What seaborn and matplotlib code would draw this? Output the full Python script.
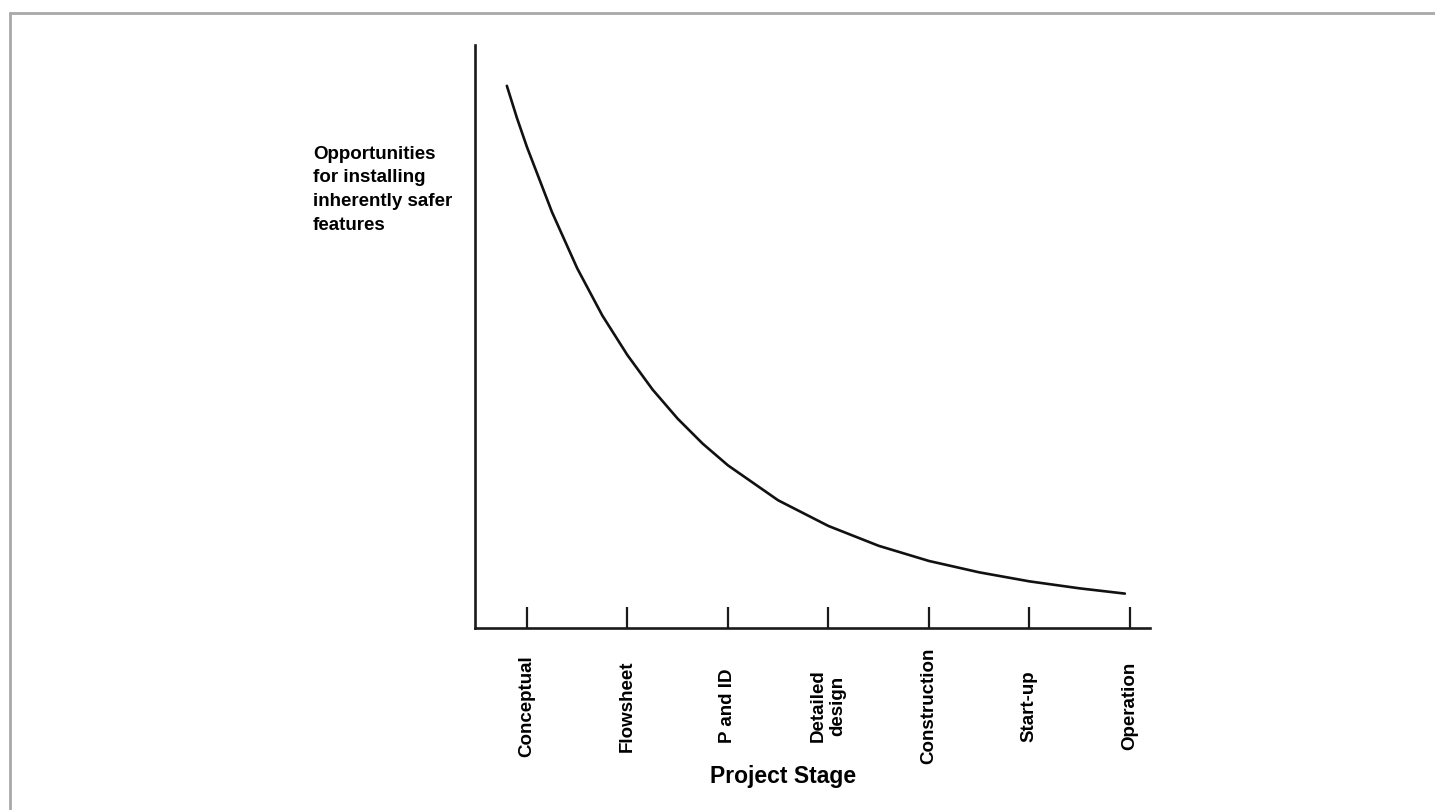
import matplotlib
matplotlib.use("Agg")
import matplotlib.pyplot as plt
from matplotlib.lines import Line2D
import seaborn as sns
import pandas as pd

# stage names along the x axis
STAGES = ["Conceptual", "Flowsheet", "P and ID", "Detailed\ndesign",
          "Construction", "Start-up", "Operation"]

# curve (x in stage units, y in % of axis height)
curve_x = [-0.20, -0.10, 0.00, 0.25, 0.50, 0.75, 1.00, 1.25, 1.50, 1.75,
           2.00, 2.50, 3.00, 3.50, 4.00, 4.50, 5.00, 5.50, 5.95]
curve_y = [93.0, 87.5, 82.5, 71.3, 61.7, 53.6, 46.8, 40.9, 35.9, 31.6,
           27.9, 21.9, 17.5, 14.1, 11.5, 9.55, 8.0, 6.8, 5.9]

YLABEL = "Opportunities\nfor installing\ninherently safer\nfeatures"
XLABEL = "Project Stage"

sns.set_style("white")
plt.rcParams["font.family"] = ["Liberation Sans", "DejaVu Sans"]
plt.rcParams["text.color"] = "black"
plt.rcParams["xtick.labelcolor"] = "black"

df = pd.DataFrame({"stage": curve_x, "opp": curve_y})

fig = plt.figure(figsize=(14.35, 8.10), dpi=100)
ax = fig.add_axes([475 / 1435, 1 - 628 / 810, 675 / 1435, 583 / 810])

sns.lineplot(data=df, x="stage", y="opp", ax=ax, sort=False,
             color="#111111", linewidth=1.9)

ax.set_xlim(-0.517, 6.20)
ax.set_ylim(0, 100)
ax.set_yticks([])
ax.set_ylabel("")

ax.set_xticks(range(len(STAGES)))
ax.set_xticklabels(STAGES, rotation=90, fontsize=13.5, fontweight="bold",
                   multialignment="center", color="black")
for lab in ax.get_xticklabels():
    lab.set_va("center")
ax.tick_params(axis="x", direction="in", length=15, width=1.6,
               color="#1a1a1a", pad=56, bottom=True)

for side in ["top", "right"]:
    ax.spines[side].set_visible(False)
for side in ["left", "bottom"]:
    ax.spines[side].set_color("#1a1a1a")
    ax.spines[side].set_linewidth(1.9)

ax.set_xlabel(XLABEL, fontsize=16.5, fontweight="bold", va="center",
              color="black")
ax.xaxis.set_label_coords((783 - 475) / 675, -(777 - 628) / 583)

fig.text(313 / 1435, 1 - 146 / 810, YLABEL, ha="left", va="top",
         fontsize=13.5, fontweight="bold", linespacing=1.5, color="black")

# thin grey frame on the top and left edge of the scan
fig.add_artist(Line2D([9.5 / 1435, 1], [1 - 13 / 810, 1 - 13 / 810],
                      transform=fig.transFigure, color="#a8a8a8", lw=2))
fig.add_artist(Line2D([9.5 / 1435, 9.5 / 1435], [0, 1 - 13 / 810],
                      transform=fig.transFigure, color="#a8a8a8", lw=2))

fig.savefig("out.png", dpi=100)
